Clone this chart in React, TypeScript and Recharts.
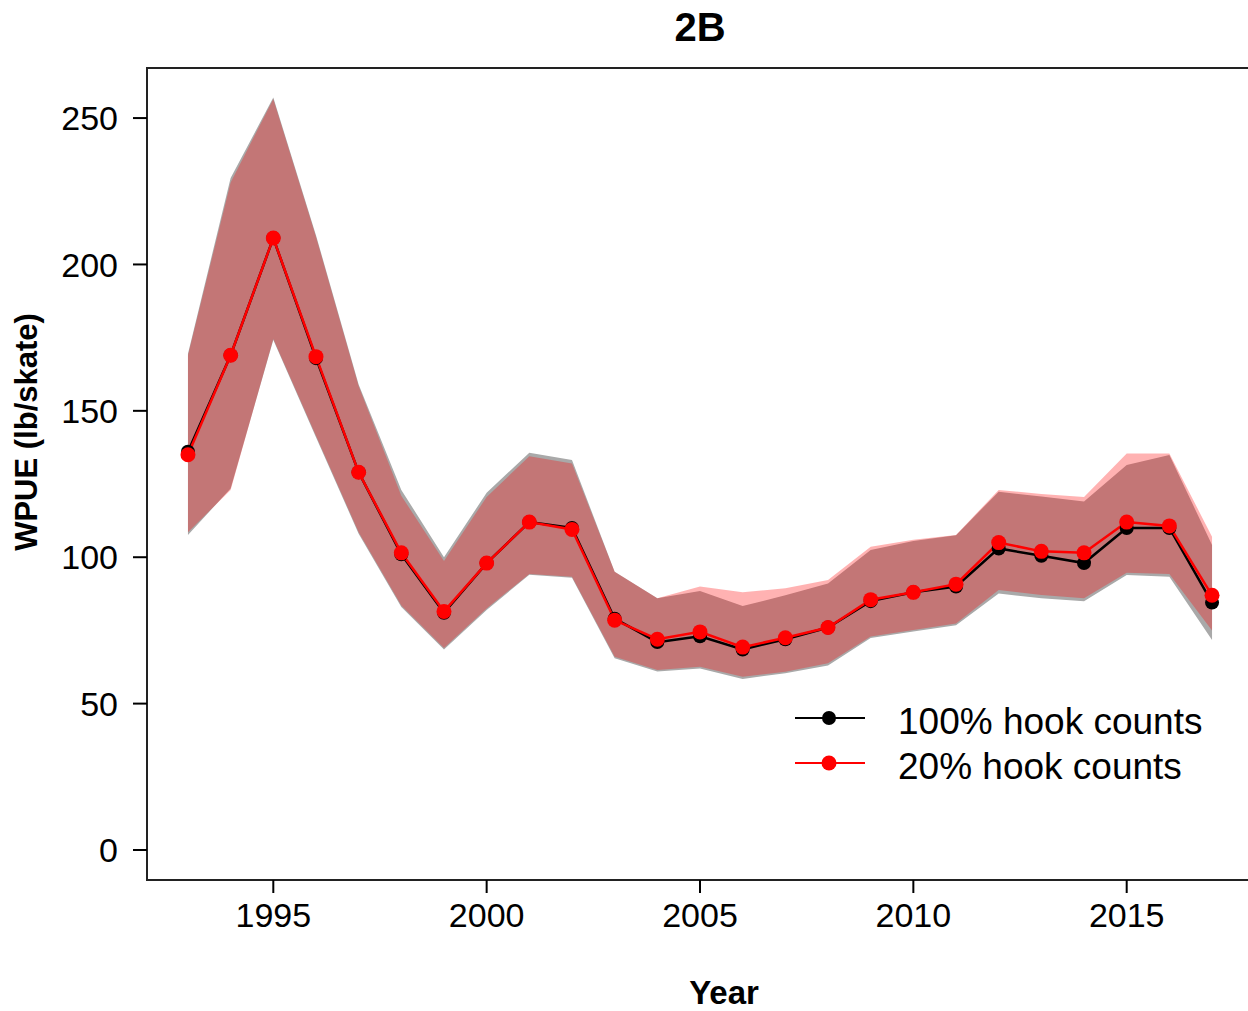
import React from 'react';
import { ComposedChart, Line, Area, XAxis, YAxis, ReferenceArea } from 'recharts';

const years = [1993, 1994, 1995, 1996, 1997, 1998, 1999, 2000, 2001, 2002, 2003, 2004, 2005, 2006, 2007, 2008, 2009, 2010, 2011, 2012, 2013, 2014, 2015, 2016, 2017];

// 100% hook counts
const wpue100 = [136, 169, 209, 168, 129, 101, 81, 98, 112, 110, 79, 71, 73, 68.5, 72, 76, 85, 88, 90, 103, 100.5, 98, 110, 110, 84.5];
const low100 = [107.6, 123.5, 174.2, 141, 108, 83, 68.5, 82, 94, 93, 65.5, 61, 62, 58.4, 60.4, 63, 72.4, 74.6, 76.8, 87.6, 86, 85, 93.9, 93.3, 71.7];
const high100 = [169.5, 229.5, 257, 210, 159, 123, 100, 122, 135.7, 133.2, 95, 86, 88.5, 83.3, 87, 91, 102.5, 105.5, 107.5, 122.4, 120.7, 119, 131.5, 134.9, 104.2];

// 20% hook counts
const wpue20 = [135, 169, 209, 168.5, 129, 101.5, 81.5, 98, 112, 109.5, 78.5, 72, 74.5, 69.3, 72.5, 76, 85.5, 88, 90.8, 105, 102, 101.5, 112, 110.7, 87];
const low20 = [108.5, 123, 174.5, 141.5, 108.5, 83.5, 69, 82.5, 94.3, 93.3, 66, 61.5, 62.6, 59.2, 60.9, 63.8, 72.9, 75.1, 77.4, 88.8, 87.1, 86, 94.7, 94.3, 75];
const high20 = [169, 228, 256.5, 209.5, 158.5, 121, 98.7, 120.6, 134.5, 132, 95, 86, 90, 88, 89.4, 92.2, 103.6, 106, 107.6, 123, 121.6, 120.6, 135.4, 135.4, 107];

const xTicks = [1995, 2000, 2005, 2010, 2015];
const yTicks = [0, 50, 100, 150, 200, 250];

const X_DOMAIN: [number, number] = [1992.04, 2017.96];
const Y_DOMAIN: [number, number] = [-10.25, 267.1];

const data = years.map((year, i) => ({
  year,
  full: wpue100[i],
  sub: wpue20[i],
  fullBand: [low100[i], high100[i]],
  subBand: [low20[i], high20[i]],
}));

const font = '"Liberation Sans", Arial, sans-serif';

const App: React.FC = () => {
  return (
    <div style={{ position: 'absolute', left: 0, top: 0, width: 1248, height: 1011, overflow: 'hidden', background: '#fff' }}>
      <ComposedChart
        width={1262}
        height={1011}
        data={data}
        margin={{ top: 68, right: 9, left: 0, bottom: 0 }}
        style={{ fontFamily: font }}
      >
        <XAxis
          dataKey="year"
          type="number"
          domain={X_DOMAIN}
          ticks={xTicks}
          allowDataOverflow
          height={131}
          tickSize={13}
          tickMargin={10}
          axisLine={false}
          stroke="#000"
          tickLine={{ stroke: '#000', strokeWidth: 2 }}
          tick={{ fill: '#000', fontSize: 34, fontFamily: font }}
        />
        <YAxis
          type="number"
          domain={Y_DOMAIN}
          ticks={yTicks}
          allowDataOverflow
          width={147}
          tickSize={14}
          tickMargin={15}
          axisLine={false}
          stroke="#000"
          tickLine={{ stroke: '#000', strokeWidth: 2 }}
          tick={{ fill: '#000', fontSize: 34, fontFamily: font }}
        />
        <Area
          type="linear"
          dataKey="fullBand"
          fill="#a9a9a9"
          fillOpacity={1}
          stroke="none"
          isAnimationActive={false}
          dot={false}
          activeDot={false}
        />
        <Area
          type="linear"
          dataKey="subBand"
          fill="#ff0000"
          fillOpacity={0.3}
          stroke="none"
          isAnimationActive={false}
          dot={false}
          activeDot={false}
        />
        <Line
          type="linear"
          dataKey="full"
          stroke="#000"
          strokeWidth={2.5}
          dot={{ r: 7, fill: '#000', stroke: 'none' }}
          activeDot={false}
          isAnimationActive={false}
        />
        <Line
          type="linear"
          dataKey="sub"
          stroke="#ff0000"
          strokeWidth={2.5}
          dot={{ r: 7.5, fill: '#ff0000', stroke: 'none' }}
          activeDot={false}
          isAnimationActive={false}
        />
        <ReferenceArea
          x1={X_DOMAIN[0]}
          x2={X_DOMAIN[1]}
          y1={Y_DOMAIN[0]}
          y2={Y_DOMAIN[1]}
          fill="none"
          fillOpacity={0}
          stroke="#222"
          strokeWidth={2}
          ifOverflow="visible"
        />

        <text x={700} y={41} textAnchor="middle" fontSize={40} fontWeight="bold" fontFamily={font} fill="#000">
          2B
        </text>
        <text
          transform="translate(37,432) rotate(-90)"
          textAnchor="middle"
          fontSize={31}
          fontWeight="bold"
          fontFamily={font}
          fill="#000"
        >
          WPUE (lb/skate)
        </text>
        <text x={724} y={1004} textAnchor="middle" fontSize={33} fontWeight="bold" fontFamily={font} fill="#000">
          Year
        </text>

        <g>
          <line x1={795} y1={718} x2={865} y2={718} stroke="#000" strokeWidth={2} />
          <circle cx={829} cy={718} r={7} fill="#000" />
          <text x={898} y={734} fontSize={37} fontFamily={font} fill="#000">
            100% hook counts
          </text>
          <line x1={795} y1={763} x2={865} y2={763} stroke="#ff0000" strokeWidth={2} />
          <circle cx={829} cy={763} r={7.5} fill="#ff0000" />
          <text x={898} y={779} fontSize={37} fontFamily={font} fill="#000">
            20% hook counts
          </text>
        </g>
      </ComposedChart>
    </div>
  );
};

export default App;
